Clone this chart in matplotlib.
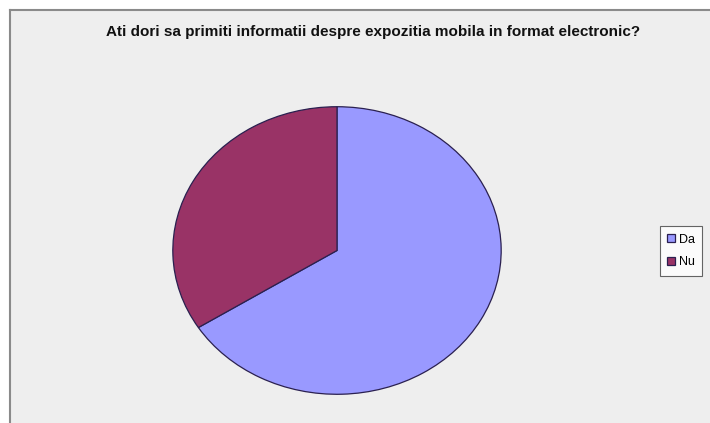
import matplotlib.pyplot as plt
from matplotlib.patches import Rectangle
from matplotlib.lines import Line2D

# survey answers (share of respondents)
labels = ['Da', 'Nu']
values = [66, 34]
colors = ['#9999ff', '#993366']
title = 'Ati dori sa primiti informatii despre expozitia mobila in format electronic?'

W, H = 710, 423
fig = plt.figure(figsize=(W / 100, H / 100), dpi=100, facecolor='white')
plt.rcParams['font.family'] = ['Liberation Sans', 'DejaVu Sans']

# grey chart area with a border on the top and left
fig.patches.append(Rectangle((10 / W, 0), 1 - 10 / W, 1 - 10 / H, transform=fig.transFigure,
                             facecolor='#eeeeee', edgecolor='none', zorder=-5))
fig.add_artist(Line2D([10 / W, 10 / W], [0, 1 - 10 / H], transform=fig.transFigure,
                      color='#8a8a8a', lw=1.5, zorder=-4))
fig.add_artist(Line2D([10 / W, 1], [1 - 10 / H, 1 - 10 / H], transform=fig.transFigure,
                      color='#8a8a8a', lw=1.5, zorder=-4))

fig.text(373 / W, 1 - 32 / H, title, ha='center', va='center', fontsize=11,
         fontweight='bold', color='#111111')

# the pie is stretched into an ellipse like the original
ax = fig.add_axes([172 / W, 1 - 395 / H, 330 / W, 289 / H], zorder=2)
ax.set_facecolor('none')
wedges, _ = ax.pie(values, colors=colors, startangle=90, counterclock=False,
                   wedgeprops=dict(edgecolor='#2a2050', linewidth=0.9))
ax.set_aspect('auto')
ax.set_xlim(-1.005, 1.005)
ax.set_ylim(-1.005, 1.005)

leg = fig.legend(wedges, labels, loc='center', bbox_to_anchor=(681 / W, 1 - 251 / H),
                 fontsize=9, frameon=True, fancybox=False, edgecolor='#404040',
                 facecolor='white', handlelength=0.65, handleheight=0.65,
                 handletextpad=0.3, borderpad=0.6, labelspacing=0.85)
leg.get_frame().set_linewidth(0.8)
leg.set_zorder(3)

fig.savefig('out.png', dpi=100, facecolor=fig.get_facecolor())
